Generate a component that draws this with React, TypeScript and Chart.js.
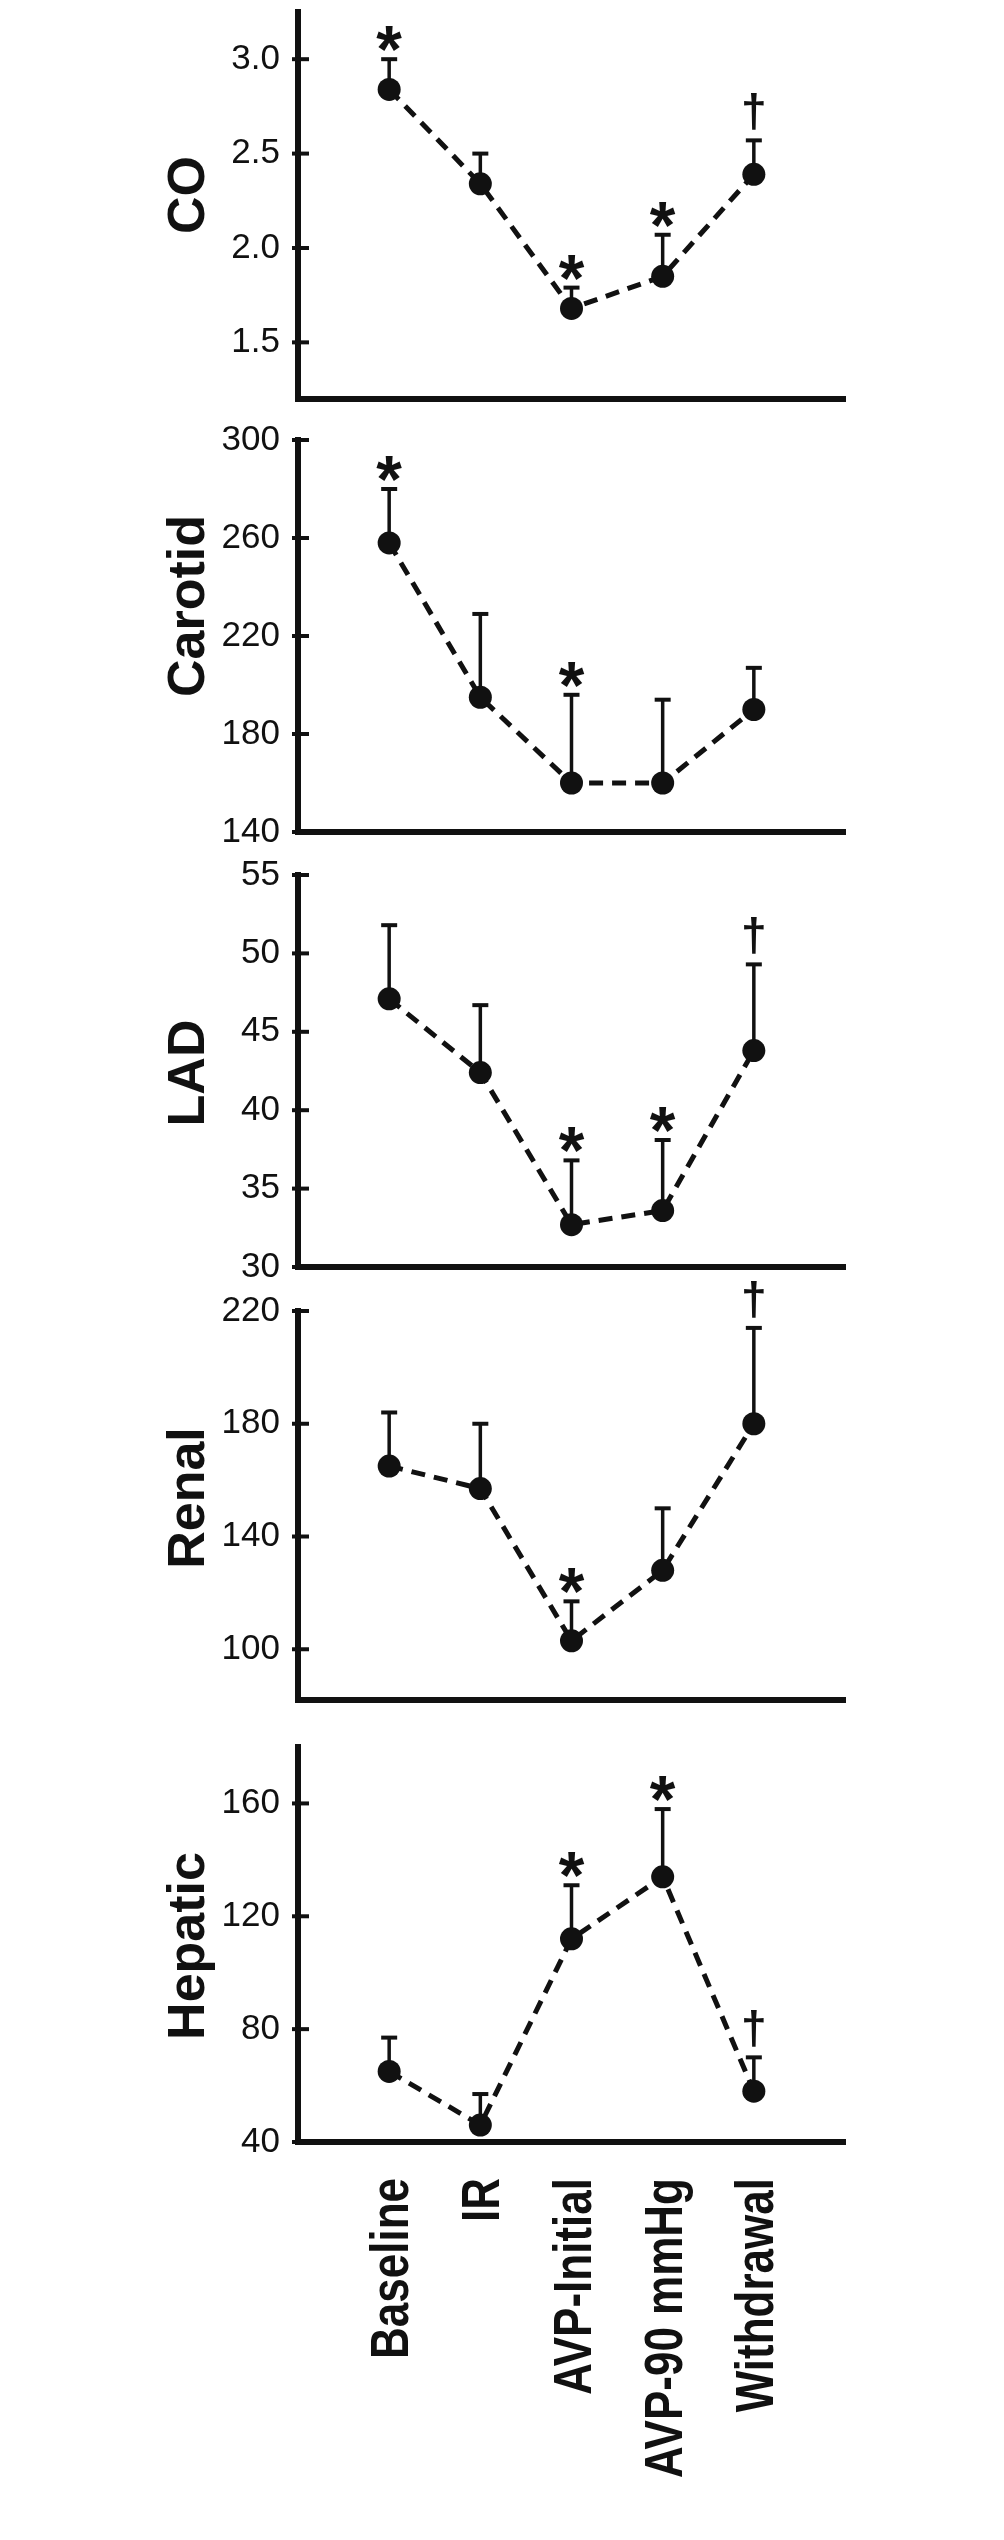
import React, { useEffect, useRef } from 'react';
import { Chart, registerables } from 'chart.js';

Chart.register(...registerables);

// ---------- data ----------
const CATEGORIES = ['Baseline', 'IR', 'AVP-Initial', 'AVP-90 mmHg', 'Withdrawal'];

const CO_MEAN = [2.84, 2.34, 1.68, 1.85, 2.39];
const CO_ERR = [0.16, 0.16, 0.11, 0.22, 0.18];
const CO_MARK = ['*', '', '*', '*', '†'];
const CO_TICKS = [1.5, 2.0, 2.5, 3.0];

const CAROTID_MEAN = [258, 195, 160, 160, 190];
const CAROTID_ERR = [22, 34, 36, 34, 17];
const CAROTID_MARK = ['*', '', '*', '', ''];
const CAROTID_TICKS = [140, 180, 220, 260, 300];

const LAD_MEAN = [47.1, 42.4, 32.7, 33.6, 43.8];
const LAD_ERR = [4.7, 4.3, 4.1, 4.5, 5.5];
const LAD_MARK = ['', '', '*', '*', '†'];
const LAD_TICKS = [30, 35, 40, 45, 50, 55];

const RENAL_MEAN = [165, 157, 103, 128, 180];
const RENAL_ERR = [19, 23, 14, 22, 34];
const RENAL_MARK = ['', '', '*', '', '†'];
const RENAL_TICKS = [100, 140, 180, 220];

const HEPATIC_MEAN = [65, 46, 112, 134, 58];
const HEPATIC_ERR = [12, 11, 19, 24, 12];
const HEPATIC_MARK = ['', '', '*', '*', '†'];
const HEPATIC_TICKS = [40, 80, 120, 160];

// ---------- layout / style ----------
const PAGE_W = 1004;
const PAGE_H = 2540;
const AREA_LEFT = 298;
const AREA_RIGHT = 845;
const PAD_TOP = 60;
const GAP_BOTTOM = 34;
const INK = '#111111';
const FONT = '"Liberation Sans", Arial, Helvetica, sans-serif';
const TITLE_BASE_X = 204;
const XLABEL_SIZE = 44;
const XLABEL_STRETCH = 1.2;

type PanelDef = {
  title: string;
  mean: number[];
  err: number[];
  mark: string[];
  ticks: number[];
  min: number;
  max: number;
  decimals: number;
  top: number;
  bottom: number;
  titleY: number;
};

const PANELS: PanelDef[] = [
  { title: 'CO', mean: CO_MEAN, err: CO_ERR, mark: CO_MARK, ticks: CO_TICKS, min: 1.2, max: 3.25, decimals: 1, top: 12, bottom: 404, titleY: 195 },
  { title: 'Carotid', mean: CAROTID_MEAN, err: CAROTID_ERR, mark: CAROTID_MARK, ticks: CAROTID_TICKS, min: 140, max: 300, decimals: 0, top: 440, bottom: 837, titleY: 606 },
  { title: 'LAD', mean: LAD_MEAN, err: LAD_ERR, mark: LAD_MARK, ticks: LAD_TICKS, min: 30, max: 55, decimals: 0, top: 875, bottom: 1272, titleY: 1073 },
  { title: 'Renal', mean: RENAL_MEAN, err: RENAL_ERR, mark: RENAL_MARK, ticks: RENAL_TICKS, min: 82, max: 220, decimals: 0, top: 1311, bottom: 1705, titleY: 1498 },
  { title: 'Hepatic', mean: HEPATIC_MEAN, err: HEPATIC_ERR, mark: HEPATIC_MARK, ticks: HEPATIC_TICKS, min: 40, max: 180, decimals: 0, top: 1747, bottom: 2142, titleY: 1946 },
];

function drawMark(ctx: CanvasRenderingContext2D, mk: string, px: number, capY: number) {
  const isStar = mk === '*';
  const target = isStar ? 25 : 37;
  const weight = 'bold';
  ctx.font = `${weight} 100px ${FONT}`;
  const m = ctx.measureText(mk);
  const h100 = m.actualBoundingBoxAscent + m.actualBoundingBoxDescent;
  const size = (100 * target) / (h100 || 70);
  ctx.font = `${weight} ${size}px ${FONT}`;
  const m2 = ctx.measureText(mk);
  ctx.textAlign = 'center';
  ctx.textBaseline = 'alphabetic';
  const gap = isStar ? 6 : 8;
  const glyphBottom = capY - 2 - gap;
  ctx.fillText(mk, px, glyphBottom - m2.actualBoundingBoxDescent);
}

function makePlugin(p: PanelDef, canvasTop: number, last: boolean) {
  return {
    id: 'panelDecor',
    beforeDatasetsDraw(chart: any) {
      const { ctx, chartArea } = chart;
      const xs = chart.scales.x;
      const ys = chart.scales.y;
      ctx.save();
      ctx.strokeStyle = INK;
      ctx.fillStyle = INK;
      ctx.lineCap = 'butt';
      // inward tick marks
      ctx.lineWidth = 4;
      p.ticks.forEach((v) => {
        const py = ys.getPixelForValue(v);
        ctx.beginPath();
        ctx.moveTo(chartArea.left - 6, py);
        ctx.lineTo(chartArea.left + 11, py);
        ctx.stroke();
      });
      // error bars + significance marks
      p.mean.forEach((m, i) => {
        const px = xs.getPixelForValue(i + 1);
        const py = ys.getPixelForValue(m);
        const pt = ys.getPixelForValue(m + p.err[i]);
        ctx.lineWidth = 3.5;
        ctx.beginPath();
        ctx.moveTo(px, py);
        ctx.lineTo(px, pt);
        ctx.stroke();
        ctx.lineWidth = 4;
        ctx.beginPath();
        ctx.moveTo(px - 8, pt);
        ctx.lineTo(px + 8, pt);
        ctx.stroke();
        if (p.mark[i]) drawMark(ctx, p.mark[i], px, pt);
      });
      ctx.restore();
    },
    afterDraw(chart: any) {
      const { ctx, chartArea } = chart;
      const xs = chart.scales.x;
      ctx.save();
      ctx.fillStyle = INK;
      // y-axis title
      ctx.font = `bold 52px ${FONT}`;
      ctx.translate(TITLE_BASE_X, p.titleY - canvasTop);
      ctx.rotate(-Math.PI / 2);
      ctx.textAlign = 'center';
      ctx.textBaseline = 'alphabetic';
      ctx.fillText(p.title, 0, 0);
      ctx.restore();
      if (last) {
        const yEnd = chartArea.bottom + 36;
        const baseOff = XLABEL_SIZE * 0.36 * XLABEL_STRETCH;
        CATEGORIES.forEach((c, i) => {
          const px = xs.getPixelForValue(i + 1);
          ctx.save();
          ctx.fillStyle = INK;
          ctx.font = `bold ${XLABEL_SIZE}px ${FONT}`;
          ctx.translate(px + baseOff, yEnd);
          ctx.rotate(-Math.PI / 2);
          ctx.scale(1, XLABEL_STRETCH);
          ctx.textAlign = 'right';
          ctx.textBaseline = 'alphabetic';
          ctx.fillText(c, 0, 0);
          ctx.restore();
        });
      }
    },
  };
}

function Panel({ p, last }: { p: PanelDef; last: boolean }) {
  const ref = useRef<HTMLCanvasElement>(null);
  const canvasTop = p.top - PAD_TOP;
  const bottomExtra = last ? PAGE_H - p.bottom : GAP_BOTTOM;
  const height = p.bottom - canvasTop + bottomExtra;

  useEffect(() => {
    if (!ref.current) return;
    const chart = new Chart(ref.current, {
      type: 'line',
      data: {
        datasets: [
          {
            data: p.mean.map((m, i) => ({ x: i + 1, y: m })),
            borderColor: INK,
            borderWidth: 5,
            borderDash: [14, 9],
            pointRadius: 11.5,
            pointHoverRadius: 11.5,
            pointBackgroundColor: INK,
            pointBorderWidth: 0,
            fill: false,
            tension: 0,
            clip: false as any,
          },
        ],
      },
      options: {
        responsive: false,
        animation: false,
        devicePixelRatio: 1,
        events: [],
        layout: { padding: { top: PAD_TOP, left: 0, right: PAGE_W - AREA_RIGHT, bottom: 0 } },
        plugins: { legend: { display: false }, tooltip: { enabled: false } },
        scales: {
          x: {
            type: 'linear',
            min: 0,
            max: 6,
            ticks: { display: false },
            grid: { display: false, drawTicks: false },
            border: { display: true, width: 6, color: INK },
            afterFit: (s: any) => {
              s.height = bottomExtra;
            },
          },
          y: {
            type: 'linear',
            min: p.min,
            max: p.max,
            afterBuildTicks: (s: any) => {
              s.ticks = p.ticks.map((v) => ({ value: v }));
            },
            ticks: {
              color: INK,
              font: { family: FONT, size: 35 },
              padding: 18,
              callback: (v: any) => Number(v).toFixed(p.decimals),
            },
            grid: { display: false, drawTicks: false },
            border: { display: true, width: 6, color: INK },
            afterFit: (s: any) => {
              s.width = AREA_LEFT;
            },
          },
        },
      } as any,
      plugins: [makePlugin(p, canvasTop, last)],
    });
    return () => chart.destroy();
  }, []);

  return (
    <canvas
      ref={ref}
      width={PAGE_W}
      height={height}
      style={{ position: 'absolute', left: 0, top: canvasTop, width: PAGE_W, height, display: 'block' }}
    />
  );
}

export default function App() {
  return (
    <div style={{ position: 'absolute', left: 0, top: 0, width: PAGE_W, height: PAGE_H, background: '#ffffff' }}>
      {PANELS.map((p, i) => (
        <Panel key={p.title} p={p} last={i === PANELS.length - 1} />
      ))}
    </div>
  );
}
